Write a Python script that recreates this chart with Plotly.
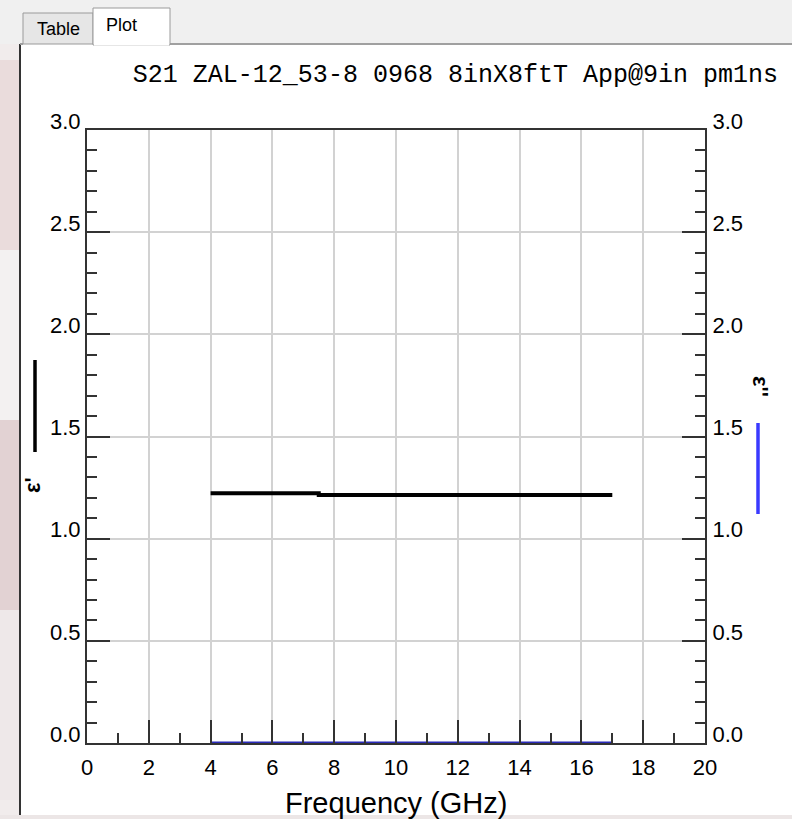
import plotly.graph_objects as go

# ---- data ----
freq_real = [4.0, 7.5, 17.0]
eps_real = [1.222, 1.214, 1.214]
freq_imag = [4.0, 17.0]
eps_imag = [0.0, 0.0]

x_range = [0, 20]
y_range = [0, 3]
title_text = "S21 ZAL-12_53-8 0968 8inX8ftT App@9in pm1ns"
x_title = "Frequency (GHz)"
left_label = "\u03b5'"
right_label = "\u03b5''"
tabs = ["Table", "Plot"]

W, H = 792, 819
L, R, T, B = 87, 87, 130, 76
pw, ph = W - L - R, H - T - B


def px(x):
    return (x - L) / pw


def py(y):
    return (H - B - y) / ph


fig = go.Figure()
fig.add_trace(go.Scatter(x=freq_real, y=eps_real, mode="lines", line_shape="hv",
                         line=dict(color="black", width=4), yaxis="y", showlegend=False))
fig.add_trace(go.Scatter(x=freq_imag, y=eps_imag, mode="lines",
                         line=dict(color="#2a2ab8", width=3), yaxis="y2",
                         cliponaxis=False, showlegend=False))

tickfont = dict(family="Liberation Sans, Arial", size=22, color="black")
framecol = "#333333"
gridcol = "#d2d2d2"

fig.update_layout(
    width=W, height=H,
    margin=dict(l=L, r=R, t=T, b=B, pad=0),
    paper_bgcolor="white", plot_bgcolor="white",
    showlegend=False,
    title=dict(text=title_text, xref="container", x=0.575, xanchor="center",
               yref="container", y=1 - 73 / H, yanchor="middle",
               font=dict(family="Liberation Mono, DejaVu Sans Mono", size=25, color="black")),
    xaxis=dict(range=x_range, dtick=2, tick0=0, ticks="inside", ticklen=23, tickwidth=1.5,
               tickcolor=framecol, showgrid=True, gridcolor=gridcol, gridwidth=1.5,
               zeroline=False, showline=True, linecolor=framecol, linewidth=2, mirror=True,
               tickfont=tickfont, ticklabelstandoff=4,
               minor=dict(dtick=1, ticks="inside", ticklen=10, tickwidth=1.5,
                          tickcolor=framecol, showgrid=False)),
    yaxis=dict(range=y_range, dtick=0.5, tick0=0, tickformat=".1f", ticks="inside",
               ticklen=23, tickwidth=1.5, tickcolor=framecol, showgrid=True,
               gridcolor=gridcol, gridwidth=1.5, zeroline=False, showline=True,
               linecolor=framecol, linewidth=2, tickfont=tickfont,
               ticklabelshift=-9, ticklabelstandoff=0,
               minor=dict(dtick=0.1, ticks="inside", ticklen=10, tickwidth=1.5,
                          tickcolor=framecol, showgrid=False)),
    yaxis2=dict(range=y_range, dtick=0.5, tick0=0, tickformat=".1f", ticks="inside",
                ticklen=23, tickwidth=1.5, tickcolor=framecol, showgrid=False,
                zeroline=False, showline=True, linecolor=framecol, linewidth=2,
                overlaying="y", side="right", tickfont=tickfont,
                ticklabelshift=-9, ticklabelstandoff=1,
                minor=dict(dtick=0.1, ticks="inside", ticklen=10, tickwidth=1.5,
                           tickcolor=framecol, showgrid=False)),
)

shapes = []
# window chrome background (left strip)
shapes.append(dict(type="rect", xref="paper", yref="paper", x0=px(0), x1=px(20), y0=py(0), y1=py(H),
                   fillcolor="#f1ecec", line_width=0, layer="below"))
for (y0, y1, c) in [(60, 250, "#eadcdc"), (250, 420, "#f3f1f1"), (420, 610, "#e2d2d3"),
                    (610, 800, "#eee8e9")]:
    shapes.append(dict(type="rect", xref="paper", yref="paper", x0=px(0), x1=px(20),
                       y0=py(y0), y1=py(y1), fillcolor=c, line_width=0, layer="below"))
# top strip
shapes.append(dict(type="rect", xref="paper", yref="paper", x0=px(0), x1=px(W), y0=py(0), y1=py(44),
                   fillcolor="#f0f0f0", line_width=0, layer="below"))
# bottom strip
shapes.append(dict(type="rect", xref="paper", yref="paper", x0=px(0), x1=px(W), y0=py(815), y1=py(H),
                   fillcolor="#ece6e6", line_width=0, layer="below"))
# panel borders
shapes.append(dict(type="line", xref="paper", yref="paper", x0=px(20), x1=px(20), y0=py(44), y1=py(815),
                   line=dict(color="#333333", width=2), layer="below"))
shapes.append(dict(type="line", xref="paper", yref="paper", x0=px(170), x1=px(W), y0=py(44), y1=py(44),
                   line=dict(color="#a0a0a0", width=2), layer="below"))
shapes.append(dict(type="line", xref="paper", yref="paper", x0=px(20), x1=px(23), y0=py(44), y1=py(44),
                   line=dict(color="#a0a0a0", width=2), layer="below"))
# tabs
shapes.append(dict(type="rect", xref="paper", yref="paper", x0=px(23), x1=px(93), y0=py(13), y1=py(44),
                   fillcolor="#e6e6e6", line=dict(color="#9a9a9a", width=1), layer="below"))
shapes.append(dict(type="rect", xref="paper", yref="paper", x0=px(93), x1=px(170), y0=py(8), y1=py(45),
                   fillcolor="white", line=dict(color="#9a9a9a", width=1), layer="below"))
shapes.append(dict(type="line", xref="paper", yref="paper", x0=px(94), x1=px(169), y0=py(44), y1=py(44),
                   line=dict(color="white", width=3), layer="below"))
# axis key samples
shapes.append(dict(type="line", xref="paper", yref="paper", x0=px(35), x1=px(35), y0=py(360), y1=py(452),
                   line=dict(color="black", width=3.5)))
shapes.append(dict(type="line", xref="paper", yref="paper", x0=px(758), x1=px(758), y0=py(423), y1=py(514),
                   line=dict(color="#3a3aff", width=3.5)))
fig.update_layout(shapes=shapes)

ann = []
ann.append(dict(text=x_title, xref="paper", yref="paper", x=0.5, y=py(803), xanchor="center",
                yanchor="middle", showarrow=False,
                font=dict(family="Liberation Sans, Arial", size=29, color="black")))
ann.append(dict(text="<b>" + left_label + "</b>", xref="paper", yref="paper", x=px(32), y=py(485),
                xanchor="center", yanchor="middle", showarrow=False, textangle=-90,
                font=dict(family="Liberation Sans, Arial", size=22, color="black")))
ann.append(dict(text="<b>" + right_label + "</b>", xref="paper", yref="paper", x=px(761), y=py(386),
                xanchor="center", yanchor="middle", showarrow=False, textangle=90,
                font=dict(family="Liberation Sans, Arial", size=22, color="black")))
ann.append(dict(text=tabs[0], xref="paper", yref="paper", x=px(58), y=py(29), xanchor="center",
                yanchor="middle", showarrow=False,
                font=dict(family="Liberation Sans, Arial", size=18, color="black")))
ann.append(dict(text=tabs[1], xref="paper", yref="paper", x=px(121), y=py(25), xanchor="center",
                yanchor="middle", showarrow=False,
                font=dict(family="Liberation Sans, Arial", size=18, color="black")))
fig.update_layout(annotations=ann)

fig.write_html("out.html")
